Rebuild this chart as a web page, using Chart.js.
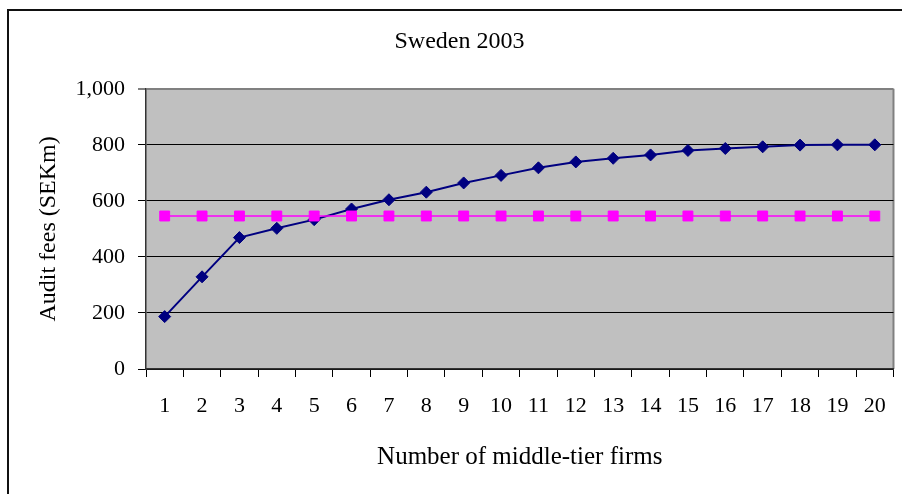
<!DOCTYPE html>
<html>
<head>
<meta charset="utf-8">
<title>Sweden 2003 – Audit fees</title>
<script src="https://cdn.jsdelivr.net/npm/chart.js@4/dist/chart.umd.min.js"></script>
<style>
  html, body { margin: 0; padding: 0; background: #ffffff; }
  #wrap { position: relative; width: 902px; height: 494px; overflow: hidden; }
  #frame {
    position: absolute; left: 7px; top: 9px; right: -10px; bottom: -10px;
    border-top: 2px solid #111; border-left: 2px solid #111;
    pointer-events: none;
  }
  canvas { position: absolute; left: 0; top: 0; }
</style>
</head>
<body>
<div id="wrap">
  <canvas id="chart" width="902" height="494"></canvas>
  <div id="frame"></div>
</div>
<script>
// Number of middle-tier firms on the x axis
const firms = ['1','2','3','4','5','6','7','8','9','10','11','12','13','14','15','16','17','18','19','20'];

// Audit fees (SEKm) as the number of middle-tier firms grows
const feesByFirms = [187, 329, 469, 502, 533, 571, 604, 631, 664, 691, 718, 739, 752, 764, 780, 787, 793, 799, 800, 800];

// Flat reference level of audit fees
const referenceFees = [546, 546, 546, 546, 546, 546, 546, 546, 546, 546, 546, 546, 546, 546, 546, 546, 546, 546, 546, 546];

// Y axis range and tick step
const yMin = 0;
const yMax = 1000;
const yStep = 200;

const serif = "'Liberation Serif', 'Times New Roman', serif";

// Grey plot background plus the grey right edge of the plot box
const plotBackground = {
  id: 'plotBackground',
  beforeDraw(chart) {
    const { ctx, chartArea: a } = chart;
    ctx.save();
    ctx.fillStyle = '#C0C0C0';
    ctx.fillRect(a.left, a.top, a.right - a.left, a.bottom - a.top);
    ctx.strokeStyle = '#808080';
    ctx.lineWidth = 2;
    ctx.beginPath();
    ctx.moveTo(a.right, a.top);
    ctx.lineTo(a.right, a.bottom);
    ctx.stroke();
    ctx.restore();
  }
};

new Chart(document.getElementById('chart'), {
  type: 'line',
  data: {
    labels: firms,
    datasets: [
      {
        label: 'Audit fees',
        data: feesByFirms,
        borderColor: '#000080',
        backgroundColor: '#000080',
        borderWidth: 2,
        pointStyle: 'rectRot',
        pointRadius: 6,
        pointBorderWidth: 1,
        pointBorderColor: '#000080',
        pointBackgroundColor: '#000080',
        tension: 0,
        order: 1
      },
      {
        label: 'Reference',
        data: referenceFees,
        borderColor: '#FF00FF',
        backgroundColor: '#FF00FF',
        borderWidth: 1.5,
        pointStyle: 'rect',
        pointRadius: 7,
        pointBorderWidth: 1,
        pointBorderColor: '#FF00FF',
        pointBackgroundColor: '#FF00FF',
        tension: 0,
        order: 0
      }
    ]
  },
  options: {
    responsive: false,
    animation: false,
    layout: { padding: { top: 0, right: 8, bottom: 0, left: 25 } },
    plugins: {
      legend: { display: false },
      tooltip: { enabled: false },
      title: {
        display: true,
        text: 'Sweden 2003',
        color: '#000',
        font: { family: serif, size: 24, weight: 'normal' },
        padding: { top: 27, bottom: 33 }
      }
    },
    scales: {
      x: {
        type: 'category',
        offset: true,
        afterFit(scale) { scale.height = 125; },
        grid: {
          offset: true,
          drawOnChartArea: false,
          drawTicks: true,
          tickLength: 8,
          color: '#000',
          lineWidth: 1
        },
        border: { display: true, color: '#333', width: 1.5 },
        ticks: {
          color: '#000',
          font: { family: serif, size: 22 },
          padding: 16,
          maxRotation: 0,
          autoSkip: false
        },
        title: {
          display: true,
          text: 'Number of middle-tier firms',
          color: '#000',
          font: { family: serif, size: 25, weight: 'normal' },
          padding: { top: 0, bottom: 22 }
        }
      },
      y: {
        min: yMin,
        max: yMax,
        afterFit(scale) { scale.width = 121; },
        grid: {
          drawTicks: true,
          tickLength: 8,
          color: (c) => (c.tick && c.tick.value === yMax ? '#808080' : '#000'),
          lineWidth: (c) => (c.tick && c.tick.value === yMax ? 2 : 1)
        },
        border: { display: true, color: '#333', width: 1.5 },
        ticks: {
          stepSize: yStep,
          color: '#000',
          font: { family: serif, size: 22 },
          padding: 13,
          callback: (v) => Number(v).toLocaleString('en-US')
        },
        title: {
          display: true,
          text: 'Audit fees (SEKm)',
          color: '#000',
          font: { family: serif, size: 24, weight: 'normal' },
          padding: { top: 9, bottom: 0 }
        }
      }
    }
  },
  plugins: [plotBackground]
});
</script>
</body>
</html>
